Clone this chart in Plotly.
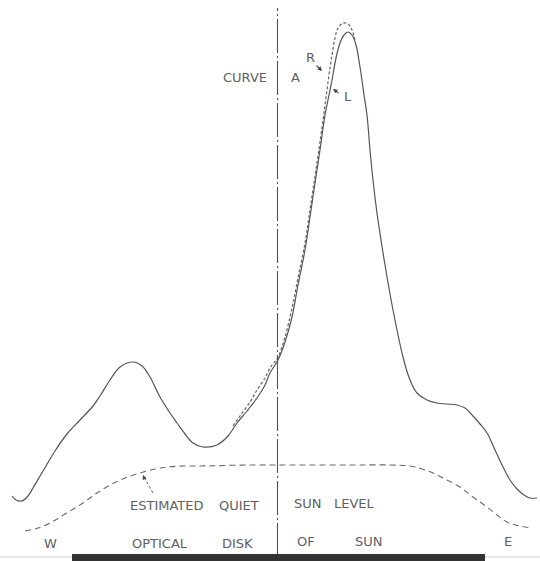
import plotly.graph_objects as go

# Position along scan (arbitrary units, W -> E) and relative intensity (arbitrary units)
curve_L_x = [12, 16, 22, 28, 33, 43, 55, 67, 80, 93, 100, 110, 120, 133, 142, 150, 160, 170, 177, 185, 193,
             203, 217, 228, 237, 247, 257, 265, 270, 278, 285, 292, 298, 305, 310, 315, 320, 325, 329,
             332, 336, 340, 344, 348, 352, 356, 360, 364, 367, 370, 373, 377, 381, 385, 393, 403, 410,
             417, 427, 437, 447, 457, 465, 473, 480, 487, 495, 503, 510, 517, 524, 530, 537]
curve_L_y = [65, 61, 60, 65, 73, 90, 110, 127, 141, 155, 165, 181, 194, 199, 195, 184, 164, 148, 138, 127, 118,
             114, 116, 125, 138, 150, 163, 176, 188, 201, 219, 244, 276, 311, 344, 378, 411, 446, 466,
             481, 503, 518, 526, 529, 526, 516, 494, 466, 446, 411, 381, 348, 321, 296, 251, 204, 181,
             168, 161, 158, 157, 156, 153, 145, 137, 128, 111, 94, 81, 72, 66, 63, 63]

curve_R_x = [233, 240, 250, 257, 265, 270, 278, 285, 292, 298, 305, 310, 315, 320, 325, 329, 332,
             335, 338, 343, 348, 352, 355]
curve_R_y = [135, 145, 159, 171, 183, 193, 204, 224, 253, 283, 318, 351, 385, 419, 456, 486, 506,
             523, 533, 538, 537, 531, 521]

quiet_x = [25, 38, 50, 65, 83, 97, 110, 125, 140, 155, 167, 185, 200, 250, 300, 350, 390, 410, 422, 433,
           447, 460, 473, 487, 497, 507, 520, 532]
quiet_y = [30, 33, 38, 47, 58, 68, 76, 83, 88, 92, 94, 95, 95, 96, 96, 96, 96, 95, 92, 88,
           81, 74, 64, 54, 46, 39, 35, 33]

disk_center = 277.5
disk_limits = [72, 485]

H = 561
fig = go.Figure()

fig.add_trace(go.Scatter(x=quiet_x, y=quiet_y, mode="lines", line=dict(color="#6a6a6a", width=1.1, dash="6px,4px", shape="spline"),
                         hoverinfo="skip", showlegend=False))
fig.add_trace(go.Scatter(x=curve_R_x, y=curve_R_y, mode="lines", line=dict(color="#666666", width=1.2, dash="3px,2px", shape="spline"),
                         hoverinfo="skip", showlegend=False))
fig.add_trace(go.Scatter(x=curve_L_x, y=curve_L_y, mode="lines", line=dict(color="#555555", width=1.2, shape="spline"),
                         hoverinfo="skip", showlegend=False))

# central meridian (dash-dot)
fig.add_shape(type="line", x0=disk_center, x1=disk_center, y0=H - 557, y1=H - 8, xref="x", yref="y",
              line=dict(color="#505050", width=1.1, dash="34px,3px,2px,3px"))
# optical disk bar
fig.add_shape(type="line", x0=0, x1=540, y0=H - 557, y1=H - 557, xref="x", yref="y",
              line=dict(color="#d0d0d0", width=1))
fig.add_shape(type="rect", x0=disk_limits[0], x1=disk_limits[1], y0=0, y1=H - 554, xref="x", yref="y",
              fillcolor="#333333", line=dict(width=0))
# dashed pointer to quiet-sun level
fig.add_shape(type="line", x0=153, x1=145, y0=H - 493, y1=H - 479, xref="x", yref="y",
              line=dict(color="#666666", width=1, dash="3px,2px"))

font = dict(family="DejaVu Sans", size=13, color="#606060")
labels = [
    ("CURVE", 269, 77, "right"), ("A", 295, 77, "center"),
    ("R", 310, 57, "center"), ("L", 348, 96, "center"),
    ("ESTIMATED", 128, 505, "left"), ("QUIET", 217, 505, "left"),
    ("SUN", 292, 503, "left"), ("LEVEL", 332, 503, "left"),
    ("W", 50, 543, "center"), ("OPTICAL", 130, 543, "left"), ("DISK", 220, 543, "left"),
    ("OF", 295, 541, "left"), ("SUN", 353, 541, "left"), ("E", 508, 541, "center"),
]
for t, x, y, anc in labels:
    fig.add_annotation(x=x, y=H - y, text=t, showarrow=False, xanchor=anc, yanchor="middle", font=font)

arrows = [((322, 71), -7, -7), ((333, 89), 7, 5), ((143, 475), 2, 5)]
for (x, y), ax, ay in arrows:
    fig.add_annotation(x=x, y=H - y, ax=ax, ay=ay, text="", showarrow=True, arrowhead=2,
                       arrowsize=0.8, arrowwidth=1.1, arrowcolor="#444444")

fig.update_xaxes(range=[0, 540], visible=False, fixedrange=True)
fig.update_yaxes(range=[0, H], visible=False, fixedrange=True)
fig.update_layout(width=540, height=561, margin=dict(l=0, r=0, t=0, b=0),
                  plot_bgcolor="white", paper_bgcolor="white", showlegend=False)

fig.write_html("out.html")
